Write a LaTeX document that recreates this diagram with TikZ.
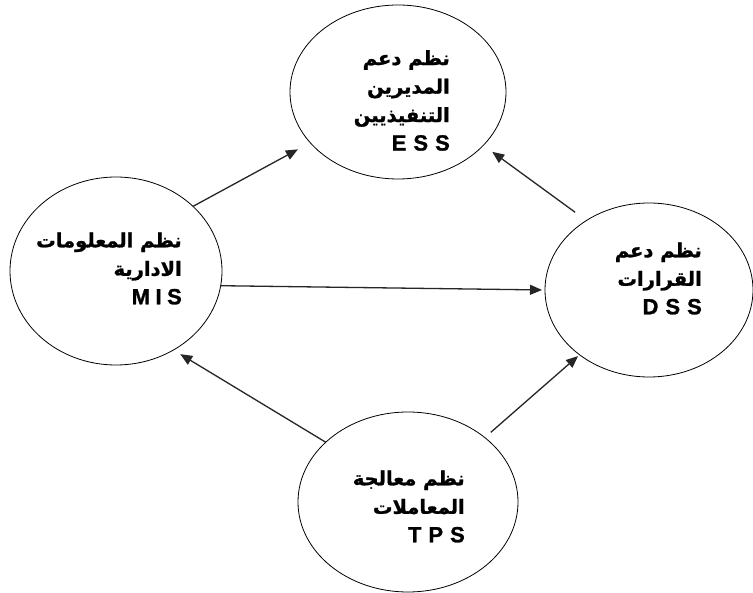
\documentclass[tikz,border=0pt]{standalone}
\usepackage{fontspec}
\setmainfont{Liberation Sans}[BoldFeatures={FakeBold=1.2}]
\newfontfamily\arabicfont[Script=Arabic, FakeBold=1.2]{DejaVu Sans}
\TeXXeTstate=1
\usetikzlibrary{shapes.geometric,arrows.meta}
\newcommand\artxt[1]{{\arabicfont\bfseries\fontsize{19.5}{28.5}\selectfont\beginR #1\endR}}
\newcommand\gap{\hspace{7pt}}
\newcommand\sgap{\hspace{5.5pt}}
\tikzset{
  sys/.style={draw=black, line width=0.8pt, ellipse, inner sep=0pt, outer sep=0pt},
  arr/.style={draw=black!85, line width=1.3pt, -{Triangle[length=12pt,width=10pt]}},
  lab/.style={align=right, inner sep=0pt, anchor=east, font=\fontsize{22}{28.5}\selectfont\bfseries}
}
\begin{document}
\begin{tikzpicture}[x=1pt,y=-1pt]
\useasboundingbox[fill=white] (0,0) rectangle (753,593);
\node[sys, minimum width=216pt, minimum height=174pt] (ess) at (398,92) {};
\node[sys, minimum width=212pt, minimum height=188pt] (mis) at (116,271) {};
\node[sys, minimum width=208pt, minimum height=174pt] (dss) at (649,290) {};
\node[sys, minimum width=220pt, minimum height=180pt] (tps) at (408,502) {};

\node[lab] (esst) at (450,100.5) {\artxt{نظم دعم}\\ \artxt{المديرين}\\ \artxt{التنفيذيين}\\ E\gap S\gap S};
\node[lab] (mist) at (182,268.5) {\artxt{نظم المعلومات}\\ \artxt{الادارية}\\ M\sgap I\sgap S};
\node[lab] (dsst) at (702,278.5) {\artxt{نظم دعم}\\ \artxt{القرارات}\\ D\gap S\gap S};
\node[lab] (tpst) at (465,506.5) {\artxt{نظم معالجة}\\ \artxt{المعاملات}\\ T\gap P\gap S};

\draw[arr, shorten >=14pt] (mis.40) -- (ess.210);
\draw[arr, shorten <=14pt, shorten >=11pt] (dss.132) -- (ess.328);
\draw[arr, shorten >=3pt] (mis.352) -- (dss.180);
\draw[arr, shorten >=8pt] (tps.144) -- (mis.306);
\draw[arr, shorten <=8pt, shorten >=2pt] (tps.40) -- (dss.223);
\end{tikzpicture}
\end{document}
